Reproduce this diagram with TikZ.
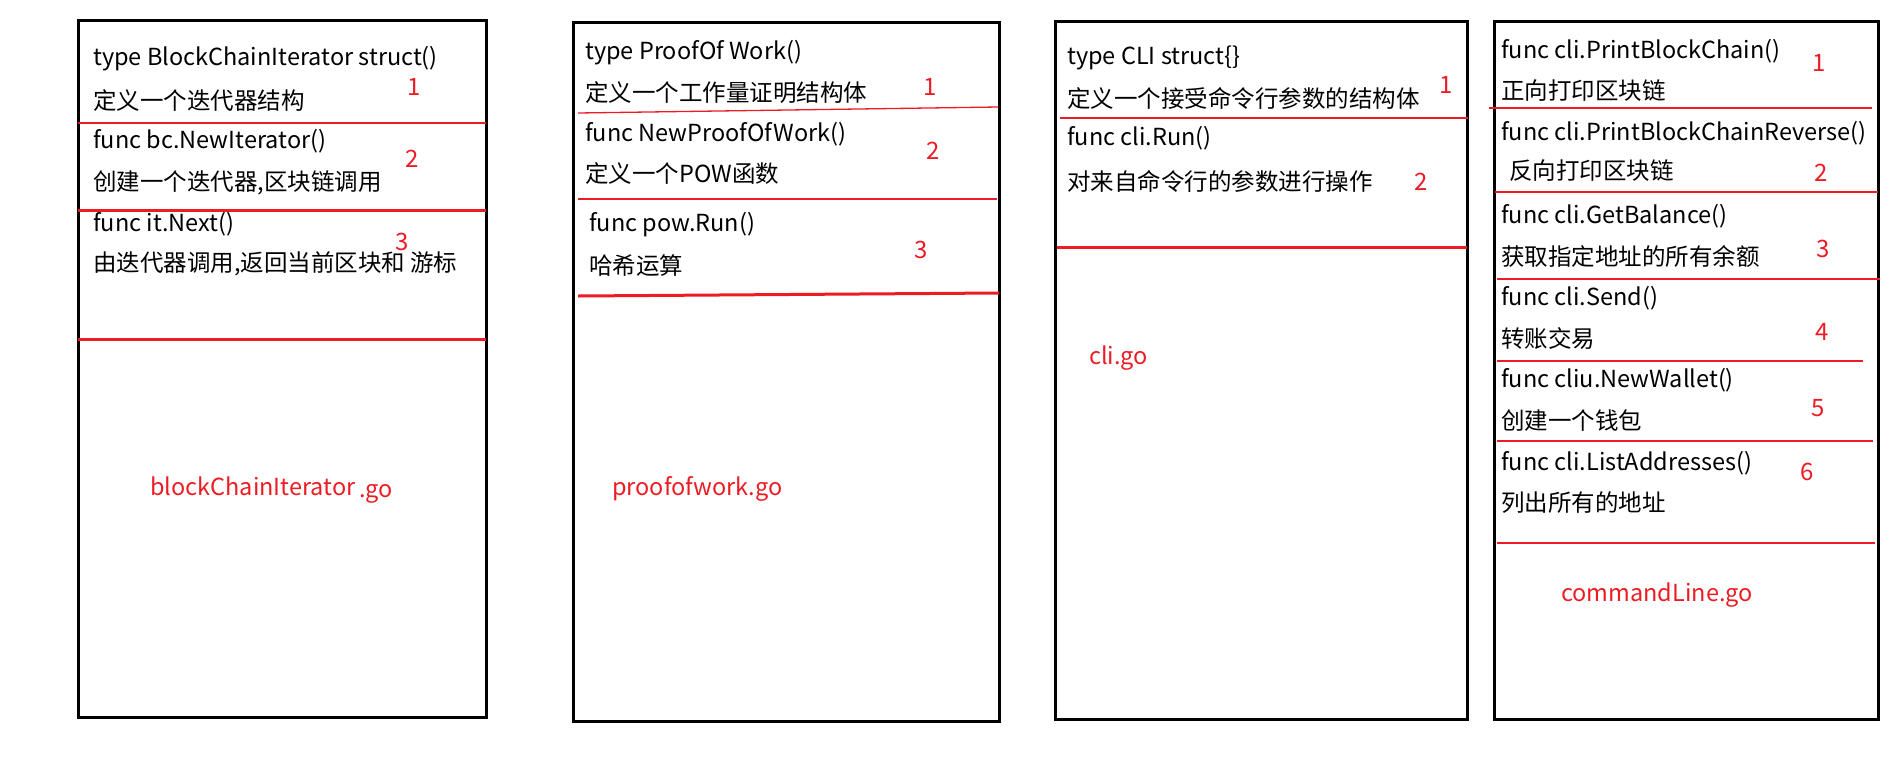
\documentclass[tikz,border=0pt]{standalone}
\usepackage{fontspec}
\setmainfont{Noto Sans CJK SC}
\definecolor{pred}{RGB}{237,28,36}
\begin{document}
\begin{tikzpicture}[x=1pt,y=-1pt,
  filebox/.style={draw=black,line width=3pt,inner sep=0,fill=none},
  txt/.style={anchor=west,inner sep=0,font=\fontsize{23.5}{27}\selectfont},
  num/.style={inner sep=0,text=pred,font=\fontsize{24}{27}\selectfont},
  fname/.style={anchor=west,inner sep=0,text=pred,font=\fontsize{23.5}{27}\selectfont},
  thinr/.style={draw=pred,line width=1.3pt},
  thickr/.style={draw=pred,line width=3pt}]
\useasboundingbox (0,0) rectangle (1904,764);
% boxes
\draw[filebox] (78,20) rectangle (486,717);
\draw[filebox] (573,22) rectangle (999,721);
\draw[filebox] (1055,21) rectangle (1467,719);
\draw[filebox] (1494,21) rectangle (1878,719);
% box 1
\node[txt] (a1) at (93,59) {type BlockChainIterator struct()};
\node[txt] (a2) at (93,101) {定义一个迭代器结构};
\node[txt] (a3) at (93,141) {func bc.NewIterator()};
\node[txt] (a4) at (93,183) {创建一个迭代器,区块链调用};
\node[txt] (a5) at (93,224) {func it.Next()};
\node[txt] (a6) at (93,264) {由迭代器调用,返回当前区块和 游标};
\node[num] (an1) at (414,87) {1};
\node[num] (an2) at (412,159) {2};
\node[num] (an3) at (402,242) {3};
\draw[thinr] (78,123) -- (486,123);
\draw[thickr] (78,210) -- (486,210);
\draw[thickr] (78,339) -- (486,339);
\node[fname] (af) at (150,490) {blockChainIterator\,\raisebox{-2pt}{.go}};
% box 2
\node[txt] (b1) at (585,53) {type ProofOf Work()};
\node[txt] (b2) at (585,93) {定义一个工作量证明结构体};
\node[txt] (b3) at (585,134) {func NewProofOfWork()};
\node[txt] (b4) at (585,174) {定义一个POW函数};
\node[txt] (b5) at (589,225) {func pow.Run()};
\node[txt] (b6) at (589,266) {哈希运算};
\node[num] (bn1) at (930,87) {1};
\node[num] (bn2) at (933,151) {2};
\node[num] (bn3) at (921,250) {3};
\draw[thinr] (578,113) -- (998,107);
\draw[thinr] (578,199) -- (997,199);
\draw[thickr] (578,296) -- (999,293);
\node[fname] (bf) at (612,489) {proofofwork.go};
% box 3
\node[txt] (c1) at (1067,58) {type CLI struct\{\}};
\node[txt] (c2) at (1067,98) {定义一个接受命令行参数的结构体};
\node[txt] (c3) at (1067,138) {func cli.Run()};
\node[txt] (c4) at (1067,181) {对来自命令行的参数进行操作};
\node[num] (cn1) at (1446,85) {1};
\node[num] (cn2) at (1421,182) {2};
\draw[thinr] (1060,118) -- (1468,118);
\draw[thickr] (1057,247) -- (1467,247);
\node[fname] (cf) at (1089,358) {cli.go};
% box 4
\node[txt] (d1) at (1501,51) {func cli.PrintBlockChain()};
\node[txt] (d2) at (1501,91) {正向打印区块链};
\node[txt] (d3) at (1501,133) {func cli.PrintBlockChainReverse()};
\node[txt] (d4) at (1509,171) {反向打印区块链};
\node[txt] (d5) at (1501,216) {func cli.GetBalance()};
\node[txt] (d6) at (1501,256) {获取指定地址的所有余额};
\node[txt] (d7) at (1501,298) {func cli.Send()};
\node[txt] (d8) at (1501,339) {转账交易};
\node[txt] (d9) at (1501,380) {func cliu.NewWallet()};
\node[txt] (d10) at (1501,421) {创建一个钱包};
\node[txt] (d11) at (1501,463) {func cli.ListAddresses()};
\node[txt] (d12) at (1501,503) {列出所有的地址};
\node[num] (dn1) at (1819,63) {1};
\node[num] (dn2) at (1821,173) {2};
\node[num] (dn3) at (1823,249) {3};
\node[num] (dn4) at (1822,332) {4};
\node[num] (dn5) at (1818,408) {5};
\node[num] (dn6) at (1807,472) {6};
\draw[thinr] (1489,108) -- (1872,108);
\draw[thinr] (1495,192) -- (1878,192);
\draw[thinr] (1497,279) -- (1880,279);
\draw[thinr] (1497,361) -- (1863,361);
\draw[thinr] (1497,441) -- (1873,441);
\draw[thinr] (1497,543) -- (1875,543);
\node[fname] (df) at (1561,595) {commandLine.go};
\end{tikzpicture}
\end{document}
